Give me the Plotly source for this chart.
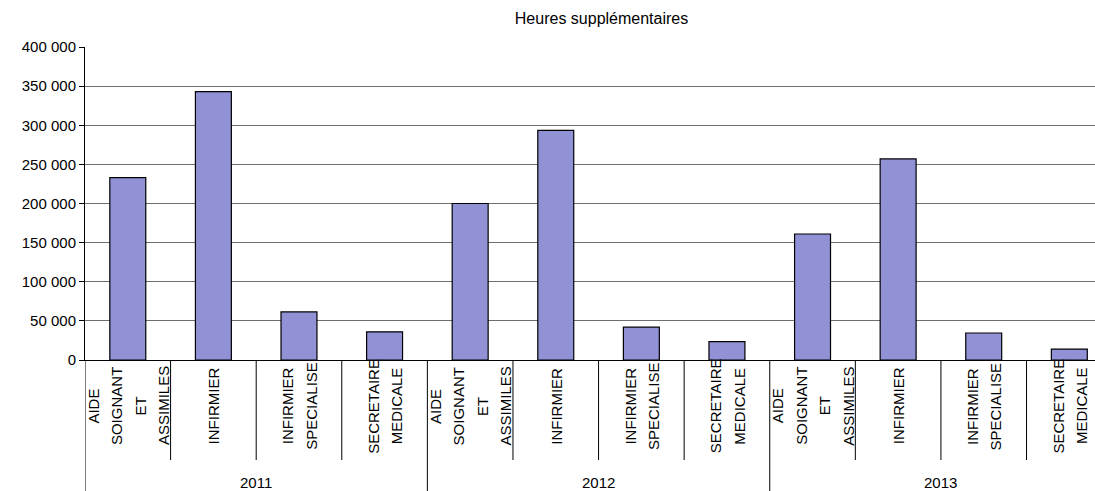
import plotly.graph_objects as go

years = ["2011", "2012", "2013"]
jobs = ["AIDE SOIGNANT ET ASSIMILES", "INFIRMIER", "INFIRMIER SPECIALISE", "SECRETAIRE MEDICALE"]
job_lines = [["AIDE", "SOIGNANT", "ET", "ASSIMILES"], ["INFIRMIER"], ["INFIRMIER", "SPECIALISE"], ["SECRETAIRE", "MEDICALE"]]
values_2011 = [233000, 343000, 61500, 36000]
values_2012 = [200000, 293500, 42000, 23500]
values_2013 = [161000, 257000, 34500, 14000]
values_by_year = [values_2011, values_2012, values_2013]

title_text = "Heures supplémentaires"
y_ticks = [0, 50000, 100000, 150000, 200000, 250000, 300000, 350000, 400000]

FONT = "Liberation Sans, Arial, sans-serif"
FS = 15

xs, ys, hover = [], [], []
idx = 0
for yr, vals in zip(years, values_by_year):
    for job, v in zip(jobs, vals):
        xs.append(idx)
        ys.append(v)
        hover.append(f"{yr} - {job}")
        idx += 1
n = len(xs)
ncat = len(jobs)

fig = go.Figure()
fig.add_trace(go.Bar(
    x=xs, y=ys, hovertext=hover,
    marker=dict(color="#9191D6", line=dict(color="#000000", width=1.2)),
    width=0.42,
))

W, H = 1095, 491
T, B, L = 47, 131, 85
plot_h = H - T - B
def py(pix):
    return (H - B - pix) / plot_h

annotations = []
line_gap = 23.5
for yi, yr in enumerate(years):
    for ji, lines in enumerate(job_lines):
        pos = yi * ncat + ji
        k = len(lines)
        for li, word in enumerate(lines):
            annotations.append(dict(
                x=pos, xref="x", y=py(406), yref="paper",
                xshift=(li - (k - 1) / 2) * line_gap,
                text=word, showarrow=False, textangle=-90,
                xanchor="center", yanchor="middle",
                font=dict(family=FONT, size=FS, color="#000000"),
            ))
    annotations.append(dict(
        x=yi * ncat + (ncat - 1) / 2, xref="x", y=py(483), yref="paper",
        text=yr, showarrow=False, xanchor="center", yanchor="middle",
        font=dict(family=FONT, size=FS, color="#000000"),
    ))

shapes = []
for i in range(n + 1):
    xpos = i - 0.5
    y0 = py(H + 2) if i % ncat == 0 else py(460)
    shapes.append(dict(type="line", xref="x", yref="paper",
                       x0=xpos, x1=xpos, y0=0, y1=y0,
                       line=dict(color="#000000", width=1)))

fig.update_layout(
    width=W, height=H,
    margin=dict(l=L, r=0, t=T, b=B, pad=0),
    paper_bgcolor="white", plot_bgcolor="white",
    separators=", ",
    showlegend=False,
    title=dict(text=title_text, x=560 / W, xref="paper", xanchor="center",
               y=1 - 18 / H, yanchor="middle",
               font=dict(family=FONT, size=16, color="#000000")),
    xaxis=dict(range=[-0.5, n - 0.7], showgrid=False, zeroline=False,
               showline=True, linecolor="#000000", linewidth=1,
               showticklabels=False, ticks=""),
    yaxis=dict(range=[0, 400000], tickvals=y_ticks, tickformat=",d",
               showgrid=True, gridcolor="#6e6e6e", gridwidth=1,
               zeroline=False, showline=True, linecolor="#000000", linewidth=1,
               ticks="outside", ticklen=5, tickcolor="#000000",
               tickfont=dict(family=FONT, size=FS, color="#000000")),
    annotations=annotations,
    shapes=shapes,
    bargap=0.58,
)

fig.write_html("out.html", config={"displayModeBar": False},
               post_script="document.body.style.margin='0px';document.body.style.padding='0px';")
